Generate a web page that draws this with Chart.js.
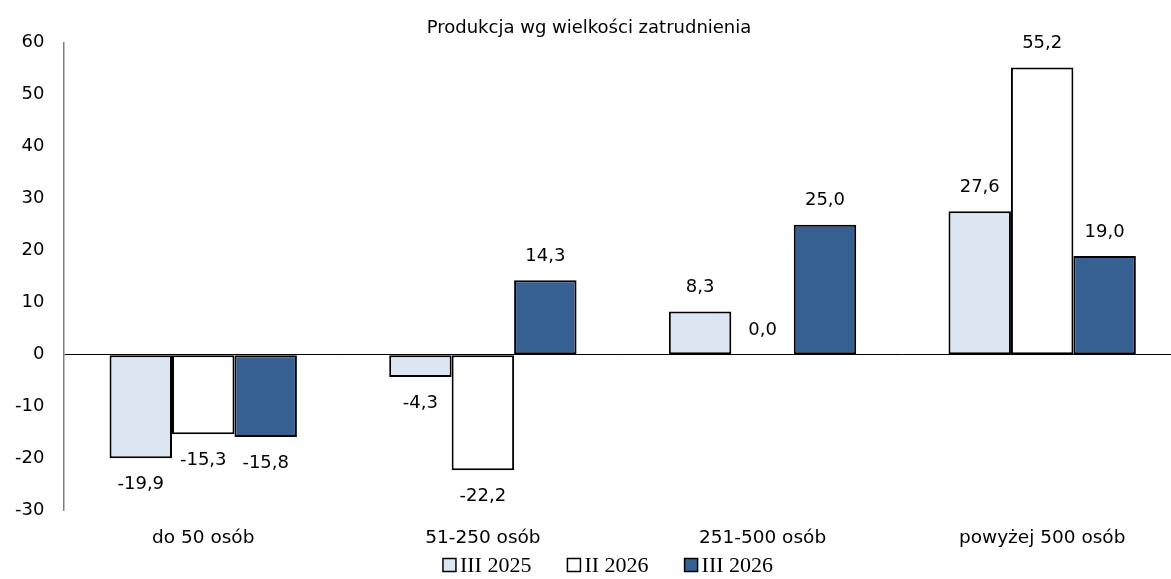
<!DOCTYPE html>
<html>
<head>
<meta charset="utf-8">
<script src="https://cdn.jsdelivr.net/npm/chart.js@4"></script>
<style>
  body { margin: 0; overflow: hidden; background: #fff; }
  #wrap { width: 1182px; height: 579px; }
</style>
</head>
<body>
<div id="wrap"><canvas id="myChart"></canvas></div>
<script>
const categories = ['do 50 osób', '51-250 osób', '251-500 osób', 'powyżej 500 osób'];
const seriesNames = ['III 2025', 'II 2026', 'III 2026'];
const iii2025 = [-19.9, -4.3, 8.3, 27.6];
const ii2026 = [-15.3, -22.2, 0.0, 55.2];
const iii2026 = [-15.8, 14.3, 25.0, 19.0];
const yTicks = [-30, -20, -10, 0, 10, 20, 30, 40, 50, 60];

const fillColors = ['#dce6f2', '#ffffff', '#376092'];

// value labels with comma decimals
const valueLabels = {
    id: 'valueLabels',
    afterDatasetsDraw(chart) {
        const ctx = chart.ctx;
        ctx.save();
        ctx.font = '18px "DejaVu Sans"';
        ctx.fillStyle = '#000';
        ctx.textAlign = 'center';
        ctx.textBaseline = 'middle';
        chart.data.datasets.forEach((ds, i) => {
            const meta = chart.getDatasetMeta(i);
            meta.data.forEach((bar, j) => {
                const v = ds.data[j];
                const txt = v.toFixed(1).replace('.', ',');
                const y = v < 0 ? bar.y + 26 : bar.y - 24;
                ctx.fillText(txt, bar.x, y);
            });
        });
        ctx.restore();
    }
};

// small legend at the bottom, boxes close to the text
const bottomLegend = {
    id: 'bottomLegend',
    afterDraw(chart) {
        const ctx = chart.ctx;
        ctx.save();
        ctx.font = '22px "Liberation Serif"';
        ctx.textBaseline = 'middle';
        const box = 13, gap = 4, space = 36;
        const items = chart.data.datasets.map(ds => ({
            text: ds.label,
            fill: ds.backgroundColor,
            w: box + gap + ctx.measureText(ds.label).width
        }));
        const total = items.reduce((s, it) => s + it.w, 0) + space * (items.length - 1);
        let x = 608 - total / 2;
        const y = 565;
        items.forEach(it => {
            ctx.fillStyle = it.fill;
            ctx.fillRect(x, y - box / 2, box, box);
            ctx.strokeStyle = '#000';
            ctx.lineWidth = 1.5;
            ctx.strokeRect(x, y - box / 2, box, box);
            ctx.fillStyle = '#000';
            ctx.fillText(it.text, x + box + gap, y + 1);
            x += it.w + space;
        });
        ctx.restore();
    }
};

const ctx = document.getElementById('myChart');

new Chart(ctx, {
    type: 'bar',
    data: {
        labels: categories,
        datasets: [iii2025, ii2026, iii2026].map((d, i) => ({
            label: seriesNames[i],
            data: d,
            backgroundColor: fillColors[i],
            borderColor: '#000',
            borderWidth: 2,
            borderSkipped: false,
            categoryPercentage: 0.67,
            barPercentage: 1.0
        }))
    },
    options: {
        responsive: true,
        maintainAspectRatio: false,
        animation: false,
        layout: { padding: { top: 0, left: -4, right: 0, bottom: 14 } },
        plugins: {
            title: {
                display: true,
                text: 'Produkcja wg wielkości zatrudnienia',
                color: '#000',
                font: { family: 'DejaVu Sans', size: 18, weight: 'normal' },
                padding: { top: 18, bottom: 3 }
            },
            legend: { display: false },
            tooltip: { enabled: false }
        },
        scales: {
            x: {
                grid: { display: false, drawTicks: false },
                border: { display: false },
                ticks: {
                    color: '#000',
                    font: { family: 'DejaVu Sans', size: 18.5 },
                    padding: 16
                }
            },
            y: {
                min: -30,
                max: 60,
                afterBuildTicks: axis => { axis.ticks = yTicks.map(v => ({ value: v })); },
                grid: {
                    drawTicks: false,
                    color: c => c.tick && c.tick.value === 0 ? '#000' : 'rgba(0,0,0,0)',
                    lineWidth: 1
                },
                border: { display: true, color: '#808080', width: 1.5 },
                ticks: {
                    color: '#000',
                    font: { family: 'DejaVu Sans', size: 18 },
                    padding: 19
                }
            }
        }
    },
    plugins: [valueLabels, bottomLegend]
});
</script>
</body>
</html>
